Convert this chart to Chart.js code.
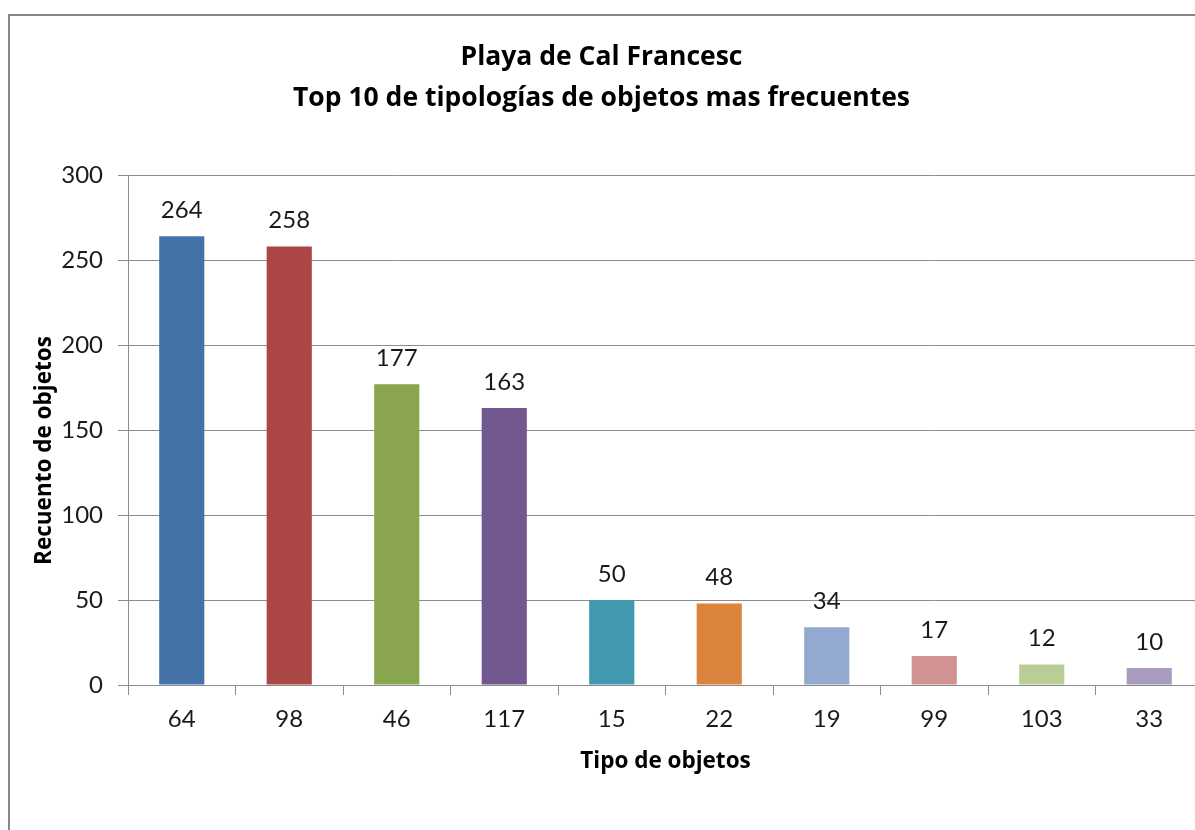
<!DOCTYPE html>
<html>
<head>
<meta charset="utf-8">
<script src="https://cdn.jsdelivr.net/npm/chart.js@4"></script>
<style>
  html, body { margin: 0; padding: 0; background: #fff; overflow: hidden; }
  #wrap { position: relative; width: 1195px; height: 830px; overflow: hidden; }
  #frame { position: absolute; left: 8px; top: 14px; width: 1300px; height: 900px; border: 2px solid #878787; }
  #myChart { position: absolute; left: 0; top: 0; }
</style>
</head>
<body>
<div id="wrap">
  <div id="frame"></div>
  <canvas id="myChart" width="1220" height="830"></canvas>
</div>
<script>
const categories = ['64', '98', '46', '117', '15', '22', '19', '99', '103', '33'];
const counts = [264, 258, 177, 163, 50, 48, 34, 17, 12, 10];
const barColors = ['#4572A7', '#AA4643', '#89A54E', '#71588F', '#4198AF',
                   '#DB843D', '#93A9CF', '#D19392', '#B9CD96', '#A99BBD'];
const yTicks = [0, 50, 100, 150, 200, 250, 300];

const ctx = document.getElementById('myChart').getContext('2d');

// value labels above each bar
const barLabels = {
  id: 'bar_labels',
  afterDatasetsDraw: (chart) => {
    const c = chart.ctx;
    const meta = chart.getDatasetMeta(0);
    c.save();
    c.font = '24px Lato';
    c.fillStyle = '#1a1a1a';
    c.textAlign = 'center';
    c.textBaseline = 'middle';
    meta.data.forEach((bar, i) => {
      c.fillText(String(counts[i]), bar.x, bar.y - 26);
    });
    c.restore();
  }
};

const config = {
  type: 'bar',
  data: {
    labels: categories,
    datasets: [{
      data: counts,
      backgroundColor: barColors,
      borderWidth: 0,
      categoryPercentage: 1,
      barPercentage: 0.42
    }]
  },
  options: {
    responsive: false,
    animation: false,
    layout: { padding: { left: 0, right: 17, top: 0, bottom: 0 } },
    plugins: {
      legend: { display: false },
      tooltip: { enabled: false },
      title: {
        display: true,
        text: ['Playa de Cal Francesc', 'Top 10 de tipologías de objetos mas frecuentes'],
        font: { family: 'Open Sans', size: 26.5, weight: 'bold', lineHeight: 1.55 },
        color: '#000',
        padding: { top: 37, bottom: 56 }
      }
    },
    scales: {
      y: {
        min: 0,
        max: 300,
        afterBuildTicks: (scale) => { scale.ticks = yTicks.map(v => ({ value: v })); },
        afterFit: (scale) => { scale.width = 128; },
        ticks: { font: { family: 'Lato', size: 24 }, color: '#1a1a1a', padding: 15 },
        grid: { color: '#8c8c8c', lineWidth: 1, tickLength: 10 },
        border: { color: '#8c8c8c' },
        title: {
          display: true,
          // trailing spaces push the rotated title a bit lower, as in the original
          text: 'Recuento de objetos\u00a0\u00a0\u00a0\u00a0\u00a0\u00a0\u00a0',
          font: { family: 'Open Sans', size: 22.5, weight: 'bold' },
          color: '#000',
          padding: { top: 31, bottom: 0 }
        }
      },
      x: {
        afterFit: (scale) => { scale.height = 145; },
        ticks: { font: { family: 'Lato', size: 24 }, color: '#1a1a1a', padding: 10, maxRotation: 0 },
        grid: { drawOnChartArea: false, color: '#8c8c8c', tickLength: 10, offset: true },
        border: { color: '#8c8c8c' },
        title: {
          display: true,
          text: 'Tipo de objetos',
          font: { family: 'Open Sans', size: 22.5, weight: 'bold' },
          color: '#000',
          padding: { top: 0, bottom: 55 }
        }
      }
    }
  },
  plugins: [barLabels]
};

const myChart = new Chart(ctx, config);
</script>
</body>
</html>
